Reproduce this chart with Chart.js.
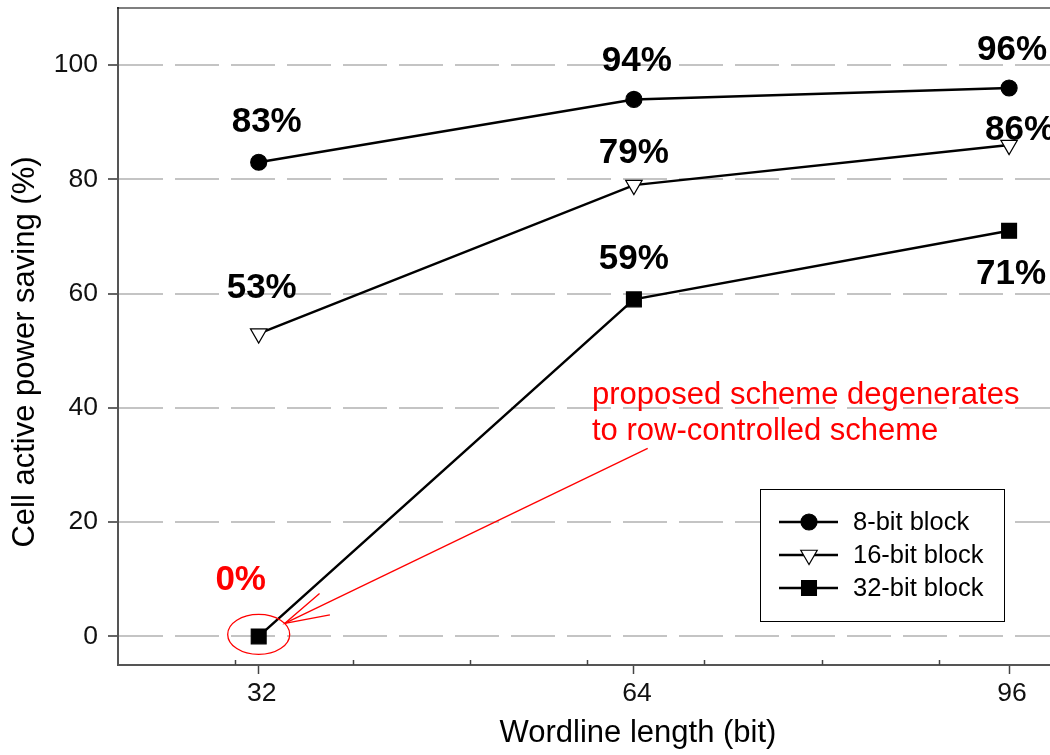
<!DOCTYPE html>
<html>
<head>
<meta charset="utf-8">
<script src="https://cdn.jsdelivr.net/npm/chart.js@4.4.1/dist/chart.umd.min.js"></script>
<style>
  html, body { margin: 0; padding: 0; background: #fff; overflow: hidden; width: 1050px; height: 755px; }
  #wrap { position: relative; width: 1060px; height: 755px; }
</style>
</head>
<body>
<div id="wrap"><canvas id="c" width="1060" height="755"></canvas></div>
<script>
// ---- data ----
const wordlineBits = [32, 64, 96];
const saving8bit  = [83, 94, 96];
const saving16bit = [53, 79, 86];
const saving32bit = [0, 59, 71];
const seriesNames = ['8-bit block', '16-bit block', '32-bit block'];
const yTickValues = [0, 20, 40, 60, 80, 100];
const xTickValues = [32, 64, 96];
const xMinorTicks = [30, 40, 50, 60, 70, 80, 90, 100];
const xTitle = 'Wordline length (bit)';
const yTitle = 'Cell active power saving (%)';
const noteLines = ['proposed scheme degenerates', 'to row-controlled scheme'];

// ---- style ----
const FONT = "'Liberation Sans', Arial, Helvetica, sans-serif";
const RED = '#ff0000';
// value-label offsets (px) from each marker, per series / point
const labelOffsets = [
  [[8, -40], [3, -38], [3, -38]],
  [[3, -45], [0, -32], [11, -15]],
  [[-18, -56], [0, -40], [2, 44]]
];
const labelColors = [
  ['#000', '#000', '#000'],
  ['#000', '#000', '#000'],
  [RED, '#000', '#000']
];

const toPoints = ys => wordlineBits.map((x, i) => ({ x: x, y: ys[i] }));

const seriesStyles = [
  { pointStyle: 'circle',   pointRadius: 8,    pointRotation: 0,   pointBackgroundColor: '#000' },
  { pointStyle: 'triangle', pointRadius: 9.5,  pointRotation: 180, pointBackgroundColor: '#fff' },
  { pointStyle: 'rect',     pointRadius: 10.5, pointRotation: 0,   pointBackgroundColor: '#000' }
];
const seriesValues = [saving8bit, saving16bit, saving32bit];

const datasets = seriesValues.map((vals, k) => Object.assign({
  label: seriesNames[k],
  data: toPoints(vals),
  borderColor: '#000',
  borderWidth: 2.5,
  pointBorderColor: '#000',
  pointBorderWidth: 1.2,
  tension: 0,
  fill: false,
  clip: false
}, seriesStyles[k]));

const decorPlugin = {
  id: 'decor',
  afterDatasetsDraw(chart) {
    const ctx = chart.ctx;
    const xs = chart.scales.x, ys = chart.scales.y;
    const area = chart.chartArea;

    // frame top / right edges
    ctx.save();
    ctx.strokeStyle = '#000';
    ctx.lineWidth = 1.2;
    ctx.beginPath();
    ctx.moveTo(area.left - 1, area.top);
    ctx.lineTo(area.right, area.top);
    ctx.lineTo(area.right, area.bottom);
    ctx.stroke();

    // minor ticks on the x axis (inward)
    ctx.strokeStyle = '#444';
    ctx.lineWidth = 1.5;
    xMinorTicks.forEach(v => {
      const px = Math.round(xs.getPixelForValue(v)) + 0.5;
      ctx.beginPath();
      ctx.moveTo(px, area.bottom);
      ctx.lineTo(px, area.bottom - 5);
      ctx.stroke();
    });

    // value labels
    ctx.font = 'bold 35px ' + FONT;
    ctx.textAlign = 'center';
    ctx.textBaseline = 'middle';
    seriesValues.forEach((vals, k) => {
      vals.forEach((v, i) => {
        const px = xs.getPixelForValue(wordlineBits[i]);
        const py = ys.getPixelForValue(v);
        ctx.fillStyle = labelColors[k][i];
        ctx.fillText(v + '%', px + labelOffsets[k][i][0], py + labelOffsets[k][i][1]);
      });
    });

    // annotation: ellipse round the degenerate point, arrow and note
    const p0x = xs.getPixelForValue(wordlineBits[0]);
    const p0y = ys.getPixelForValue(saving32bit[0]);
    ctx.strokeStyle = RED;
    ctx.lineWidth = 1.3;
    ctx.beginPath();
    ctx.ellipse(p0x, p0y - 2, 31, 20, 0, 0, Math.PI * 2);
    ctx.stroke();

    const tipX = p0x + 26, tipY = p0y - 13;
    const tailX = p0x + 389, tailY = p0y - 188;
    ctx.beginPath();
    ctx.moveTo(tailX, tailY);
    ctx.lineTo(tipX, tipY);
    ctx.stroke();
    const ang = Math.atan2(tailY - tipY, tailX - tipX);
    const headLen = 46, spread = 15 * Math.PI / 180;
    ctx.beginPath();
    ctx.moveTo(tipX + headLen * Math.cos(ang - spread), tipY + headLen * Math.sin(ang - spread));
    ctx.lineTo(tipX, tipY);
    ctx.lineTo(tipX + headLen * Math.cos(ang + spread), tipY + headLen * Math.sin(ang + spread));
    ctx.stroke();

    ctx.fillStyle = RED;
    ctx.font = '31px ' + FONT;
    ctx.textAlign = 'left';
    ctx.textBaseline = 'alphabetic';
    ctx.fillText(noteLines[0], 592, 404);
    ctx.fillText(noteLines[1], 592, 440);

    // legend
    const box = { x: 760.5, y: 489.5, w: 244, h: 132 };
    ctx.fillStyle = '#fff';
    ctx.fillRect(box.x, box.y, box.w, box.h);
    ctx.strokeStyle = '#000';
    ctx.lineWidth = 1;
    ctx.strokeRect(box.x, box.y, box.w, box.h);
    ctx.font = '25.5px ' + FONT;
    ctx.textBaseline = 'middle';
    chart.data.datasets.forEach((ds, k) => {
      const rowY = 522 + k * 33;
      ctx.strokeStyle = '#000';
      ctx.lineWidth = 2.5;
      ctx.beginPath();
      ctx.moveTo(779, rowY);
      ctx.lineTo(838, rowY);
      ctx.stroke();
      ctx.fillStyle = ds.pointBackgroundColor;
      ctx.strokeStyle = ds.pointBorderColor;
      ctx.lineWidth = ds.pointBorderWidth;
      Chart.helpers.drawPoint(ctx, {
        pointStyle: ds.pointStyle,
        radius: ds.pointRadius,
        rotation: ds.pointRotation,
        borderWidth: ds.pointBorderWidth
      }, 809, rowY);
      ctx.fillStyle = '#000';
      ctx.fillText(ds.label, 853, rowY + 1);
    });

    // axis titles
    ctx.fillStyle = '#000';
    ctx.textAlign = 'center';
    ctx.textBaseline = 'middle';
    ctx.font = '31px ' + FONT;
    ctx.fillText(xTitle, 638, 733);
    ctx.save();
    ctx.translate(25, 352);
    ctx.rotate(-Math.PI / 2);
    ctx.font = '31px ' + FONT;
    ctx.fillText(yTitle, 0, 0);
    ctx.restore();

    ctx.restore();
  }
};

new Chart(document.getElementById('c'), {
  type: 'line',
  data: { datasets: datasets },
  options: {
    responsive: false,
    animation: false,
    devicePixelRatio: 1,
    layout: { autoPadding: false, padding: { left: 0, top: 8, right: 4, bottom: 0 } },
    plugins: { legend: { display: false }, tooltip: { enabled: false } },
    scales: {
      x: {
        type: 'linear',
        min: 20,
        max: 100,
        afterBuildTicks: s => { s.ticks = xTickValues.map(v => ({ value: v })); },
        afterFit: s => { s.height = 90; s.paddingLeft = 0; s.paddingRight = 0; },
        grid: { drawOnChartArea: false, drawTicks: true, tickLength: 9, tickColor: '#444', tickWidth: 1.5 },
        border: { display: true, color: '#555', width: 2 },
        ticks: { padding: 4, labelOffset: 3, maxRotation: 0, color: '#111', font: { family: FONT, size: 26.5 } }
      },
      y: {
        type: 'linear',
        min: -5,
        max: 110,
        afterBuildTicks: s => { s.ticks = yTickValues.map(v => ({ value: v })); },
        afterFit: s => { s.width = 118; s.paddingTop = 0; s.paddingBottom = 0; },
        grid: { color: '#c4c4c4', lineWidth: 2, drawTicks: true, tickLength: 10, tickColor: '#333', tickWidth: 1.5, tickBorderDash: [] },
        border: { display: true, color: '#555', width: 2, dash: [44, 12] },
        ticks: { padding: 10, color: '#111', font: { family: FONT, size: 26.5 } }
      }
    }
  },
  plugins: [decorPlugin]
});
</script>
</body>
</html>
